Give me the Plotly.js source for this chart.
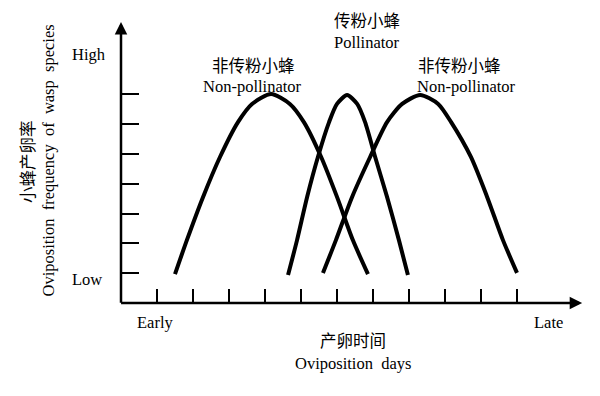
<!DOCTYPE html>
<html>
<head>
<meta charset="utf-8">
<script src="https://cdn.plot.ly/plotly-3.0.1.min.js"></script>
<style>html,body{margin:0;padding:0;background:#fff;}</style>
</head>
<body>
<div id="chart" style="width:600px;height:396px;"></div>
<script>
// ---- data (x: oviposition-day units, y: frequency units) ----
const nonPoll1X = [1.50, 1.83, 2.28, 2.75, 3.25, 3.64, 4.17, 4.69, 5.08, 5.56, 6.00, 6.44, 6.86];
const nonPoll1Y = [0.97, 2.11, 3.56, 4.90, 6.07, 6.68, 7.01, 6.68, 6.07, 4.90, 3.56, 2.11, 0.97];
const pollX     = [4.64, 4.89, 5.17, 5.47, 5.78, 6.00, 6.28, 6.56, 6.78, 7.06, 7.39, 7.72, 7.97];
const pollY     = [0.94, 2.11, 3.56, 4.90, 6.07, 6.68, 6.98, 6.68, 6.07, 4.90, 3.56, 2.11, 0.94];
const nonPoll2X = [5.61, 5.97, 6.42, 6.92, 7.39, 7.81, 8.31, 8.81, 9.17, 9.72, 10.17, 10.61, 11.00];
const nonPoll2Y = [1.01, 2.11, 3.56, 4.90, 6.07, 6.68, 6.98, 6.68, 6.07, 4.90, 3.56, 2.11, 1.01];

const xTickVals = [1, 2, 3, 4, 5, 6, 7, 8, 9, 10, 11];
const yTickVals = [1, 2, 3, 4, 5, 6, 7];

const seriesNamesCN = ['非传粉小蜂', '传粉小蜂', '非传粉小蜂'];
const seriesNamesEN = ['Non-pollinator', 'Pollinator', 'Non-pollinator'];
const yLevelLabels = ['High', 'Low'];
const xLevelLabels = ['Early', 'Late'];
const xTitleCN = '产卵时间';
const xTitleEN = 'Oviposition\u00a0 days';
const yTitleCN = '小蜂产卵率';
const yTitleEN = 'Oviposition\u00a0 frequency\u00a0 of\u00a0 wasp\u00a0 species';

// ---- layout helpers ----
const L = 121, R = 11, T = 5, B = 93, W = 600, H = 396;
const PW = W - L - R, PH = H - T - B;
const px = v => (v - L) / PW;          // pixel x -> paper
const py = v => (H - B - v) / PH;      // pixel y -> paper
const FONT = '"Liberation Serif", "Times New Roman", "Noto Sans CJK SC", serif';
const FS = 16.5;

const lineStyle = {color: '#000', width: 4, shape: 'spline', smoothing: 0.7};
const traces = [
  {x: nonPoll1X, y: nonPoll1Y, mode: 'lines', line: lineStyle, hoverinfo: 'skip'},
  {x: pollX, y: pollY, mode: 'lines', line: lineStyle, hoverinfo: 'skip'},
  {x: nonPoll2X, y: nonPoll2Y, mode: 'lines', line: lineStyle, hoverinfo: 'skip'}
];

function txt(t, x, y, extra) {
  return Object.assign({text: t, xref: 'paper', yref: 'paper', x: px(x), y: py(y),
    xanchor: 'center', yanchor: 'middle', showarrow: false,
    font: {family: FONT, size: FS, color: '#000'}}, extra || {});
}

const annotations = [
  txt(seriesNamesCN[0], 253, 66.5), txt(seriesNamesEN[0], 252, 86),
  txt(seriesNamesCN[1], 367, 21.5), txt(seriesNamesEN[1], 367, 42.5),
  txt(seriesNamesCN[2], 459.5, 66.5), txt(seriesNamesEN[2], 466, 86),
  txt(yLevelLabels[0], 89, 55), txt(yLevelLabels[1], 87, 279),
  txt(xLevelLabels[0], 155, 323), txt(xLevelLabels[1], 548, 323),
  txt(xTitleCN, 353, 341.5), txt(xTitleEN, 353, 363),
  txt(yTitleCN, 28, 162, {textangle: -90}),
  txt(yTitleEN, 47.5, 161, {textangle: -90}),
  // axis arrows
  {x: 12.81, y: 0, xref: 'x', yref: 'y', ax: -0.04, ay: 0, axref: 'x', ayref: 'y',
   text: '', showarrow: true, arrowhead: 2, arrowsize: 1, arrowwidth: 2.5, arrowcolor: '#000', standoff: 0, startstandoff: 0},
  {x: 0, y: 9.43, xref: 'x', yref: 'y', ax: 0, ay: -0.04, axref: 'x', ayref: 'y',
   text: '', showarrow: true, arrowhead: 2, arrowsize: 1, arrowwidth: 2.5, arrowcolor: '#000', standoff: 0, startstandoff: 0}
];

const layout = {
  width: W, height: H,
  margin: {l: L, r: R, t: T, b: B, pad: 0},
  paper_bgcolor: '#fff', plot_bgcolor: '#fff',
  showlegend: false,
  font: {family: FONT, size: FS, color: '#000'},
  xaxis: {range: [0, PW / 36], tickvals: xTickVals, ticks: 'inside', ticklen: 14, tickwidth: 2,
          tickcolor: '#000', showticklabels: false, showgrid: false, zeroline: false, showline: false, fixedrange: true},
  yaxis: {range: [0, PH / 29.8], tickvals: yTickVals, ticks: 'inside', ticklen: 18, tickwidth: 2,
          tickcolor: '#000', showticklabels: false, showgrid: false, zeroline: false, showline: false, fixedrange: true},
  annotations: annotations
};

Plotly.newPlot('chart', traces, layout, {displayModeBar: false, staticPlot: true});
</script>
</body>
</html>
